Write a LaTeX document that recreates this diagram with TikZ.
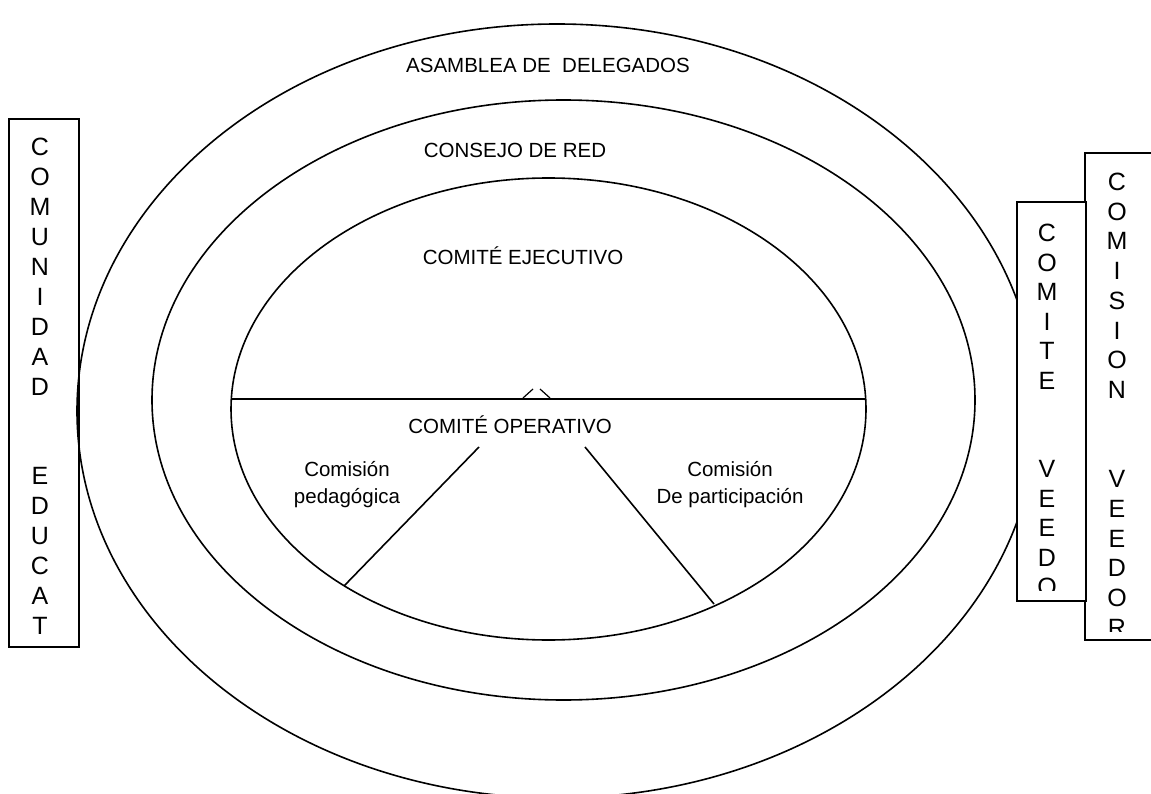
\documentclass[tikz,border=0pt]{standalone}
\usepackage{fontspec}
\setmainfont{Liberation Sans}
\usetikzlibrary{shapes.geometric}
\begin{document}
\begin{tikzpicture}[x=1pt,y=-1pt,
  ring/.style={draw, ellipse, line width=1.6pt, inner sep=0pt, outer sep=0pt},
  lbl/.style={inner sep=0pt, font=\fontsize{20.5}{27}\selectfont, align=center},
  vlet/.style={inner sep=0pt, font=\fontsize{25}{30}\selectfont},
  boxline/.style={draw, line width=2.4pt},
  conn/.style={draw, line width=1.6pt}]
\useasboundingbox (0,0) rectangle (1151,794);
\clip (0,0) rectangle (1151,794);
% rings
\node[ring, minimum width=960pt, minimum height=774pt] (outer) at (557,411) {};
\node[ring, minimum width=823pt, minimum height=600pt] (middle) at (563.5,400) {};
\node[ring, minimum width=635pt, minimum height=462pt] (inner) at (548.5,409) {};
\coordinate (hl) at (231.5,399); \coordinate (hr) at (865.5,399);
\draw[conn] (hl) -- (hr);
% caret
\coordinate (c1) at (523,398); \coordinate (c2) at (533,389);
\coordinate (c3) at (540,389); \coordinate (c4) at (550,398);
\draw[line width=1.2pt] (c1) -- (c2) (c3) -- (c4);
% labels
\node[lbl] (asamblea) at (548,65) {ASAMBLEA DE\ \ DELEGADOS};
\node[lbl] (consejo) at (515,150) {CONSEJO DE RED};
\node[lbl] (ejec) at (523,256) {COMITÉ EJECUTIVO};
\node[lbl] (oper) at (510,425) {COMITÉ OPERATIVO};
\node[lbl] (peda) at (347,485) {Comisión\\pedagógica};
\node[lbl] (part) at (730,485) {Comisión\\De participación};
% connectors
\coordinate (la) at (479,447); \coordinate (lb) at (344,586);
\coordinate (ra) at (585,447); \coordinate (rb) at (714,604);
\draw[conn] (la) -- (lb);
\draw[conn] (ra) -- (rb);
% left box
\node[boxline, minimum width=70pt, minimum height=528pt, inner sep=0pt] (cbox) at (44,383) {};
\foreach \ch/\k in {C/0,O/1,M/2,U/3,N/4,I/5,D/6,A/7,D/8,E/11,D/12,U/13,C/14,A/15,T/16}
  \node[vlet] (cl\k) at (40,147+\k*29.94) {\ch};
% right outer box
\node[boxline, minimum width=70pt, minimum height=487pt, inner sep=0pt] (vbox) at (1120,396.5) {};
\begin{scope}
\clip (1085,153) rectangle (1151,631);
\foreach \ch/\k in {C/0,O/1,M/2,I/3,S/4,I/5,O/6,N/7,V/10,E/11,E/12,D/13,O/14,R/15}
  \node[vlet] (cv\k) at (1117,182+\k*29.7) {\ch};
\end{scope}
% right inner box
\node[boxline, fill=white, minimum width=69pt, minimum height=399pt, inner sep=0pt] (tbox) at (1051.5,401.5) {};
\begin{scope}
\clip (1017,202) rectangle (1086,590);
\foreach \ch/\k in {C/0,O/1,M/2,I/3,T/4,E/5,V/8,E/9,E/10,D/11,O/12}
  \node[vlet] (ct\k) at (1047,233+\k*29.5) {\ch};
\end{scope}
\end{tikzpicture}
\end{document}
